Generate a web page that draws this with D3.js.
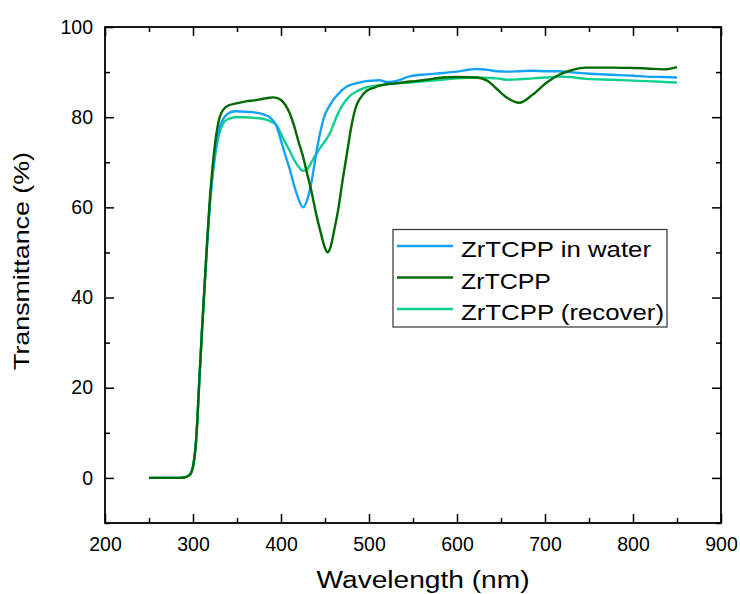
<!DOCTYPE html>
<html>
<head>
<meta charset="utf-8">
<script src="https://cdn.jsdelivr.net/npm/d3@7"></script>
<style>
  html, body { margin: 0; padding: 0; background: #fff; }
  svg { display: block; }
  text { font-family: Arial, "Liberation Sans", sans-serif; fill: #000; }
</style>
</head>
<body>
<svg id="chart" width="740" height="594"></svg>
<script>
// Wavelength grid (nm)
const wavelength = [250, 270, 285, 290, 295, 298, 300, 303, 305, 307, 310, 313, 316, 319, 322, 326, 330, 335, 340, 348,
  360, 372, 380, 387, 391, 395, 400, 405, 410, 415, 420, 425, 430, 435, 440, 445, 450, 453, 456, 460,
  465, 470, 475, 480, 485, 490, 497, 505, 512, 520, 530, 547, 565, 584, 600, 622, 635, 645, 657, 671,
  686, 702, 715, 728, 747, 777, 800, 816, 835, 850];

// Transmittance (%) of each sample on that grid
const waterT = [0, 0, 0, 0.1, 0.5, 1.2, 2.5, 7, 13, 21, 32, 42, 52, 60.5, 67, 73.5, 77.5, 79.8, 80.8, 81.3,
  81.2, 81.0, 80.6, 80.0, 79.2, 78.0, 74.8, 71.5, 68.4, 64.8, 61.8, 60.0, 61.8, 66.0, 72.0, 77.0, 80.6, 81.8, 82.8, 84.0,
  85.1, 86.1, 86.8, 87.2, 87.5, 87.7, 88.0, 88.1, 88.2, 87.8, 88.0, 89.1, 89.5, 89.8, 90.1, 90.7, 90.5, 90.2, 90.1, 90.2,
  90.3, 90.2, 90.2, 90.0, 89.7, 89.4, 89.2, 89.0, 88.9, 88.8];

const pristineT = [0, 0, 0, 0.1, 0.5, 1.2, 2.5, 7, 13, 21, 32, 42, 52, 61.5, 68.5, 75.5, 79.8, 81.8, 82.6, 83.0,
  83.5, 83.8, 84.1, 84.3, 84.4, 84.3, 83.8, 82.7, 80.8, 78.0, 74.5, 71.3, 67.2, 63.2, 58.5, 54.5, 51.0, 50.0, 51.0, 54.5,
  59.5, 66.0, 72.0, 78.0, 82.2, 84.2, 85.8, 86.5, 87.0, 87.3, 87.5, 87.9, 88.3, 88.8, 88.9, 88.8, 88.0, 86.3, 84.3, 83.2,
  85.0, 87.7, 89.3, 90.3, 91.0, 91.0, 90.9, 90.8, 90.6, 91.1];

const recoverT = [0, 0, 0, 0.1, 0.5, 1.2, 2.5, 7, 13, 21, 32, 42, 52, 60.0, 66.5, 72.5, 76.5, 78.8, 79.6, 80.0,
  80.0, 79.8, 79.6, 79.2, 78.8, 78.2, 76.3, 74.3, 72.5, 70.5, 69.0, 68.1, 68.5, 70.2, 71.8, 73.3, 74.7, 75.6, 76.6, 78.6,
  80.9, 82.7, 84.0, 85.0, 85.6, 86.1, 86.6, 86.9, 87.1, 87.3, 87.5, 87.7, 88.0, 88.3, 88.6, 88.8, 88.7, 88.6, 88.3, 88.4,
  88.6, 88.8, 89.0, 88.9, 88.5, 88.3, 88.1, 88.0, 87.8, 87.7];

const seriesNames = ["ZrTCPP in water", "ZrTCPP", "ZrTCPP (recover)"];
const seriesColors = ["#14a2f8", "#006a00", "#10d090"];

// Axis ticks
const xTicks = [200, 300, 400, 500, 600, 700, 800, 900];
const xMinorTicks = [250, 350, 450, 550, 650, 750, 850];
const yTicks = [0, 20, 40, 60, 80, 100];
const yMinorTicks = [-10, 10, 30, 50, 70, 90];

const svg = d3.select("#chart");
const plot = { left: 105, right: 721, top: 27, bottom: 523 };

const x = d3.scaleLinear().domain([200, 900]).range([plot.left, plot.right]);
const y = d3.scaleLinear().domain([-10, 100]).range([plot.bottom, plot.top]);

const majorLen = 9, minorLen = 5;

function styleAxis(g) {
  g.select(".domain").remove();
  g.selectAll(".tick line").attr("stroke", "#000").attr("stroke-width", 1.5);
  g.selectAll(".tick text").style("font-size", "19.5px").attr("fill", "#000");
}

// Bottom axis with labels, ticks pointing inward
svg.append("g")
  .attr("transform", `translate(0,${plot.bottom})`)
  .call(d3.axisBottom(x).tickValues(xTicks).tickFormat(d3.format("d"))
    .tickSizeInner(-majorLen).tickSizeOuter(0).tickPadding(14))
  .call(styleAxis);
svg.append("g")
  .attr("transform", `translate(0,${plot.bottom})`)
  .call(d3.axisBottom(x).tickValues(xMinorTicks).tickFormat("")
    .tickSizeInner(-minorLen).tickSizeOuter(0))
  .call(styleAxis);

// Top axis (ticks only)
svg.append("g")
  .attr("transform", `translate(0,${plot.top})`)
  .call(d3.axisTop(x).tickValues(xTicks).tickFormat("").tickSizeInner(-majorLen).tickSizeOuter(0))
  .call(styleAxis);
svg.append("g")
  .attr("transform", `translate(0,${plot.top})`)
  .call(d3.axisTop(x).tickValues(xMinorTicks).tickFormat("").tickSizeInner(-minorLen).tickSizeOuter(0))
  .call(styleAxis);

// Left axis with labels
svg.append("g")
  .attr("transform", `translate(${plot.left},0)`)
  .call(d3.axisLeft(y).tickValues(yTicks).tickFormat(d3.format("d"))
    .tickSizeInner(-majorLen).tickSizeOuter(0).tickPadding(12))
  .call(styleAxis);
svg.append("g")
  .attr("transform", `translate(${plot.left},0)`)
  .call(d3.axisLeft(y).tickValues(yMinorTicks).tickFormat("").tickSizeInner(-minorLen).tickSizeOuter(0))
  .call(styleAxis);

// Right axis (ticks only)
svg.append("g")
  .attr("transform", `translate(${plot.right},0)`)
  .call(d3.axisRight(y).tickValues(yTicks).tickFormat("").tickSizeInner(-majorLen).tickSizeOuter(0))
  .call(styleAxis);
svg.append("g")
  .attr("transform", `translate(${plot.right},0)`)
  .call(d3.axisRight(y).tickValues(yMinorTicks).tickFormat("").tickSizeInner(-minorLen).tickSizeOuter(0))
  .call(styleAxis);

// Spectra
const seriesValues = [waterT, pristineT, recoverT];
const line = d3.line()
  .x(d => x(d[0]))
  .y(d => y(d[1]))
  .curve(d3.curveMonotoneX);

svg.append("clipPath").attr("id", "plot-clip")
  .append("rect")
  .attr("x", plot.left).attr("y", plot.top)
  .attr("width", plot.right - plot.left).attr("height", plot.bottom - plot.top);

// Draw order: recover first, then water, then pristine on top
[2, 0, 1].forEach(i => {
  svg.append("path")
    .datum(wavelength.map((w, k) => [w, seriesValues[i][k]]))
    .attr("clip-path", "url(#plot-clip)")
    .attr("fill", "none")
    .attr("stroke", seriesColors[i])
    .attr("stroke-width", 2.4)
    .attr("stroke-linejoin", "round")
    .attr("d", line);
});

// Frame
svg.append("rect")
  .attr("x", plot.left).attr("y", plot.top)
  .attr("width", plot.right - plot.left).attr("height", plot.bottom - plot.top)
  .attr("fill", "none").attr("stroke", "#000").attr("stroke-width", 1.8);

// Legend
const legend = svg.append("g");
legend.append("rect")
  .attr("x", 393).attr("y", 229.5).attr("width", 274).attr("height", 97.5)
  .attr("fill", "#fff").attr("stroke", "#333").attr("stroke-width", 1.2);
const legendTextWidths = [190, 90, 203];
seriesNames.forEach((name, i) => {
  const cy = 246 + i * 31.5;
  legend.append("line")
    .attr("x1", 397).attr("x2", 453).attr("y1", cy).attr("y2", cy)
    .attr("stroke", seriesColors[i]).attr("stroke-width", 2.4);
  legend.append("text")
    .attr("x", 461).attr("y", cy + 11.3)
    .attr("textLength", legendTextWidths[i])
    .attr("lengthAdjust", "spacingAndGlyphs")
    .style("font-size", "22px")
    .text(name);
});

// Axis titles
svg.append("text")
  .attr("x", 423).attr("y", 588)
  .attr("text-anchor", "middle")
  .attr("textLength", 213).attr("lengthAdjust", "spacingAndGlyphs")
  .style("font-size", "23px")
  .text("Wavelength (nm)");

svg.append("text")
  .attr("transform", "translate(28.5,261) rotate(-90)")
  .attr("text-anchor", "middle")
  .attr("textLength", 218).attr("lengthAdjust", "spacingAndGlyphs")
  .style("font-size", "22px")
  .text("Transmittance (%)");
</script>
</body>
</html>
